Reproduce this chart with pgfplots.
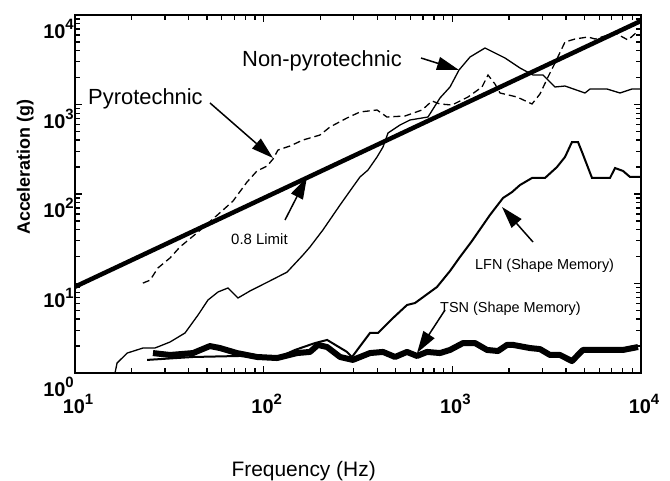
\documentclass[border=0pt]{standalone}
\usepackage{fontspec}
\setmainfont{Liberation Sans}
\usepackage{pgfplots}
\pgfplotsset{compat=1.18}
\usetikzlibrary{arrows.meta}

% tick label: bold 10 with raised exponent
\newcommand\tl[1]{\fontsize{20}{20}\selectfont\bfseries 10\raisebox{9bp}{\fontsize{15}{15}\selectfont #1}}

\begin{document}
\begin{tikzpicture}
\path[use as bounding box] (0,0) rectangle (670bp,481bp);
\begin{axis}[
	at={(75bp,108bp)}, anchor=south west,
	scale only axis, width=566bp, height=358bp,
	xmode=log, ymode=log,
	xmin=10, xmax=10000, ymin=1, ymax=10000,
	axis line style={line width=2.2bp},
	tick style={black, line width=1.3bp},
	tick align=inside,
	major tick length=7bp, minor tick length=5bp,
	xtick={10,100,1000,10000},
	xticklabels={\tl{1},\tl{2},\tl{3},\tl{4}},
	ytick={1,10,100,1000,10000},
	yticklabels={\tl{0},\tl{1},\tl{2},\tl{3},\tl{4}},
	xticklabel style={anchor=north, inner sep=0pt, yshift=-21bp, xshift=3bp},
	yticklabel style={anchor=east, inner sep=0pt, yshift=-14bp, xshift=-1bp},
	xlabel={Frequency (Hz)},
	xlabel style={at={(axis description cs:0.404,-0.29)}, anchor=base, font=\fontsize{21}{21}\selectfont},
	ylabel={Acceleration (g)},
	ylabel style={at={(axis description cs:-0.088,0.575)}, anchor=center, font=\fontsize{18}{18}\selectfont\bfseries},
]
% 0.8 limit
\addplot[black, line width=4.5bp] coordinates {(10,9.2) (10000,8600)};
% pyrotechnic
\addplot[black, line width=1.3bp, dash pattern=on 7bp off 4bp] coordinates {
	(22.9,10.1) (25.0,10.9) (27.5,14.9) (31.9,19.3) (36.0,25.6) (44.9,37.6)
	(60.1,64.6) (68.8,83.5) (81.6,136) (92.2,181) (104.2,205) (112.1,246)
	(119.1,310) (137.9,344) (161.6,401) (198.9,456) (224.7,561) (276.5,707)
	(324,825) (399,868) (450,725) (561,744) (691,868) (780,1094) (860,1013)
	(996,987) (1211,1213) (1436,1569) (1545,2136) (1683,1694) (1789,1344)
	(2201,1213) (2644,1013) (2914,1310) (3214,2029) (3501,2909) (3955,4993)
	(4470,5393) (5237,5679) (5705,5393) (7281,6294) (8533,5257) (9524,6458)
};
% non-pyrotechnic
\addplot[black, line width=1.3bp] coordinates {
	(16.3,1) (16.7,1.29) (18.9,1.67) (22.9,1.90) (26.5,1.90) (31.9,2.22)
	(38.3,2.80) (44.9,4.45) (50.7,6.54) (57.3,8.04) (64.7,8.91) (73.1,6.89)
	(84.6,8.25) (108,10.7) (133,13.4) (161.6,20.8) (176,25.6) (206,39.6)
	(254,75.4) (297,120) (324,155) (357,185) (399,259) (429,335) (456,480)
	(528,590) (596,671) (743,725) (860,1182) (972,1569) (1085,2429)
	(1241,3395) (1490,4279) (1902,3308) (2284,2557) (2676,2136) (3024,2136)
	(3501,1569) (3955,1609) (5048,1344) (5366,1490) (6603,1490) (7740,1344)
	(8962,1490) (10000,1490)
};
% LFN (shape memory)
\addplot[black, line width=2bp] coordinates {
	(24.1,1.40) (42.2,1.51) (74.9,1.55) (117.7,1.47) (146.6,1.81) (187,2.16)
	(217,2.34) (276.5,1.72) (294,1.51) (366,2.80) (404,2.80) (485,4.12)
	(575,5.75) (634,6.05) (829,9.14) (972,13.8) (1098,19.8) (1271,29.9)
	(1583,58.3) (1856,90.2) (2071,105) (2284,126) (2644,151) (3098,151)
	(3586,200) (3955,259) (4307,381) (4634,381) (4866,295) (5499,151)
	(6850,151) (7281,195) (8027,181) (8744,155) (9879,155)
};
% TSN (shape memory)
\addplot[black, line width=6bp, line join=round] coordinates {
	(25.9,1.67) (31.9,1.59) (42.2,1.67) (51.9,2.00) (58.7,1.90) (72.2,1.67)
	(92.2,1.51) (117.7,1.47) (150,1.67) (176,1.72) (194,2.06) (217,1.95)
	(254,1.51) (297,1.40) (366,1.67) (429,1.72) (497,1.51) (575,1.72)
	(650,1.55) (734,1.72) (860,1.67) (972,1.81) (1139,2.16) (1319,2.16)
	(1527,1.81) (1746,1.76) (1949,2.06) (2097,2.06) (2580,1.90) (2914,1.85)
	(3293,1.59) (3720,1.59) (4307,1.36) (4926,1.81) (5846,1.81) (8027,1.81)
	(9641,1.95)
};
\end{axis}
% annotations (page coordinates)
\begin{scope}[every node/.style={inner sep=0pt}]
\node[anchor=base west, font=\fontsize{22}{22}\selectfont] at (88bp,376bp) {Pyrotechnic};
\node[anchor=base west, font=\fontsize{22}{22}\selectfont] at (242bp,414bp) {Non-pyrotechnic};
\node[anchor=base west, font=\fontsize{15}{15}\selectfont] at (231bp,236bp) {0.8 Limit};
\node[anchor=base west, font=\fontsize{14.5}{14.5}\selectfont] at (475bp,211bp) {LFN (Shape Memory)};
\node[anchor=base west, font=\fontsize{14.5}{14.5}\selectfont] at (440bp,168bp) {TSN (Shape Memory)};
\end{scope}
\begin{scope}[line width=1.5bp, -{Triangle[length=22bp,width=13bp]}]
\draw (210bp,378bp) -- (273bp,323bp);
\draw (421bp,423bp) -- (459bp,411bp);
\draw (285bp,261bp) -- (307bp,304bp);
\draw (533bp,239bp) -- (502bp,274bp);
\draw (445bp,171bp) -- (417bp,128bp);
\end{scope}
\end{tikzpicture}
\end{document}
